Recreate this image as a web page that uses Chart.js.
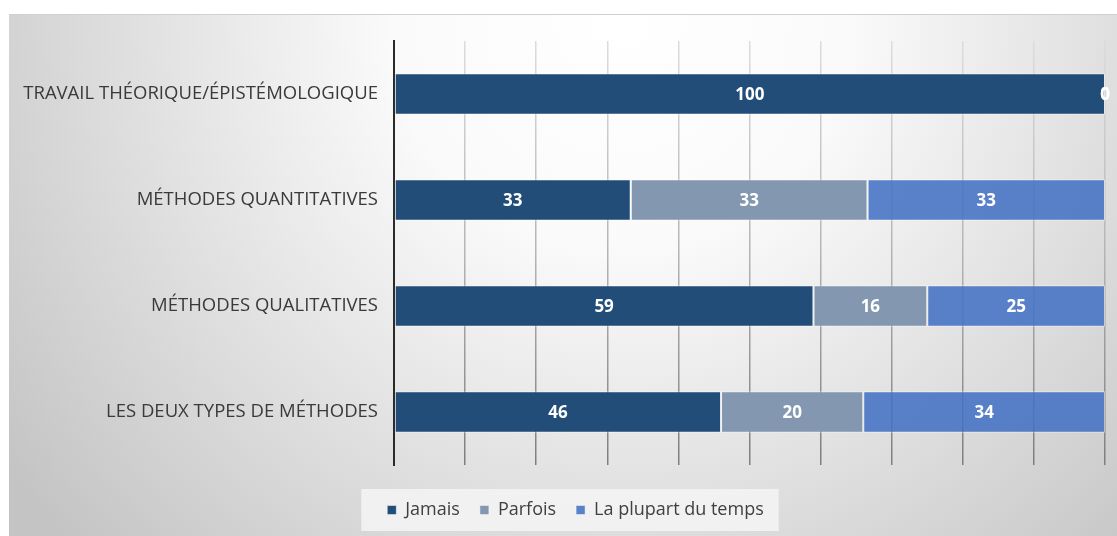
<!DOCTYPE html>
<html><head><meta charset="utf-8">
<script src="https://cdn.jsdelivr.net/npm/chart.js@4"></script>
<style>html,body{margin:0;padding:0;background:#fff}#wrap{width:1117px;height:536px;position:relative}</style>
</head><body><div id="wrap"><canvas id="c" width="1117" height="536"></canvas></div>
<script>
const categories = ["TRAVAIL THÉORIQUE/ÉPISTÉMOLOGIQUE","MÉTHODES QUANTITATIVES","MÉTHODES QUALITATIVES","LES DEUX TYPES DE MÉTHODES"];
const seriesNames = ["Jamais","Parfois","La plupart du temps"];
const jamais = [100, 33.3, 59, 46];
const parfois = [0, 33.3, 16, 20];
const plupart = [0, 33.4, 25, 34];
const xTicks = [0,10,20,30,40,50,60,70,80,90,100];

const colors = ['#214d78','#8497b0','rgba(68,114,196,0.88)'];

const shiftLegend = {
  id:'shiftLegend',
  afterLayout(chart){
    const lg = chart.legend;
    if (lg){ lg.left += 18; lg.right += 18; }
  }
};

const bgPlugin = {
  id:'bg',
  beforeDraw(chart){
    const ctx = chart.ctx;
    ctx.save();
    ctx.fillStyle = '#fff';
    ctx.fillRect(0,0,chart.width,chart.height);
    const g = ctx.createRadialGradient(620,20,0,620,20,760);
    g.addColorStop(0,'#ffffff');
    g.addColorStop(0.3,'#fafafa');
    g.addColorStop(1,'#c4c4c4');
    ctx.fillStyle = g;
    ctx.fillRect(9,14,chart.width-9,chart.height-14);
    ctx.strokeStyle = '#d0d0d0';
    ctx.lineWidth = 1;
    ctx.beginPath(); ctx.moveTo(9,14.5); ctx.lineTo(chart.width,14.5); ctx.stroke();
    const lg = chart.legend;
    if (lg && lg.lineWidths && lg.legendHitBoxes && lg.legendHitBoxes.length){
      const pad = lg.options.labels.padding;
      const lw = lg.lineWidths[0];
      const start = (lg.left + pad + lg.right - lw)/2;
      const end = start + lw - pad;
      const h = lg.legendHitBoxes[0];
      const cy = lg.top + pad + h.height/2;
      ctx.fillStyle = 'rgba(245,245,245,0.85)';
      ctx.fillRect(start-26, cy-21, (end+15)-(start-26), 42);
    }
    ctx.restore();
  }
};

const labelPlugin = {
  id:'vals',
  afterDatasetsDraw(chart){
    const ctx = chart.ctx;
    ctx.save();
    ctx.font = 'bold 17px "Open Sans", sans-serif';
    ctx.fillStyle = '#ffffff';
    ctx.textAlign = 'center';
    ctx.textBaseline = 'middle';
    chart.data.datasets.forEach((ds,di)=>{
      const meta = chart.getDatasetMeta(di);
      meta.data.forEach((el,i)=>{
        const v = ds.data[i];
        if (v == null) return;
        const x = (el.x + el.base)/2;
        ctx.fillText(String(Math.round(v)), x, el.y+1);
      });
    });
    ctx.restore();
  }
};

function gridColor(ctx){
  const chart = ctx.chart;
  const a = chart.chartArea;
  if (!a) return '#bbb';
  const g = chart.ctx.createLinearGradient(0,a.top,0,a.bottom);
  g.addColorStop(0,'#dcdcdc');
  g.addColorStop(0.5,'#b4b4b4');
  g.addColorStop(1,'#7e7e7e');
  return g;
}

new Chart(document.getElementById('c'),{
  type:'bar',
  data:{
    labels: categories,
    datasets:[
      {label:seriesNames[0], data:jamais, backgroundColor:colors[0]},
      {label:seriesNames[1], data:parfois, backgroundColor:colors[1]},
      {label:seriesNames[2], data:plupart, backgroundColor:colors[2]}
    ].map(d=>Object.assign(d,{borderColor:'rgba(255,255,255,0.45)',borderWidth:1,borderSkipped:false,categoryPercentage:1,barPercentage:0.39}))
  },
  options:{
    indexAxis:'y',
    responsive:false,
    animation:false,
    layout:{padding:{top:41,right:12,bottom:7,left:10}},
    scales:{
      x:{
        stacked:true, min:0, max:100,
        afterBuildTicks(s){ s.ticks = xTicks.map(v=>({value:v})); },
        ticks:{display:false},
        grid:{color:gridColor, lineWidth:1.5, drawTicks:false},
        border:{display:false},
        afterFit(s){ s.height = 16; }
      },
      y:{
        stacked:true,
        grid:{display:false, drawTicks:false},
        border:{display:true, color:'#2a2a2a', width:2},
        ticks:{color:'#3a3a3a', padding:16, font:{family:'"Open Sans", sans-serif', size:18.5}},
        afterFit(s){ s.width = 384; }
      }
    },
    plugins:{
      legend:{
        position:'bottom',
        labels:{boxWidth:9, boxHeight:9, padding:20, color:'#404040', font:{family:'"Open Sans", sans-serif', size:18}}
      },
      tooltip:{enabled:false}
    }
  },
  plugins:[shiftLegend,bgPlugin,labelPlugin]
});
</script></body></html>
